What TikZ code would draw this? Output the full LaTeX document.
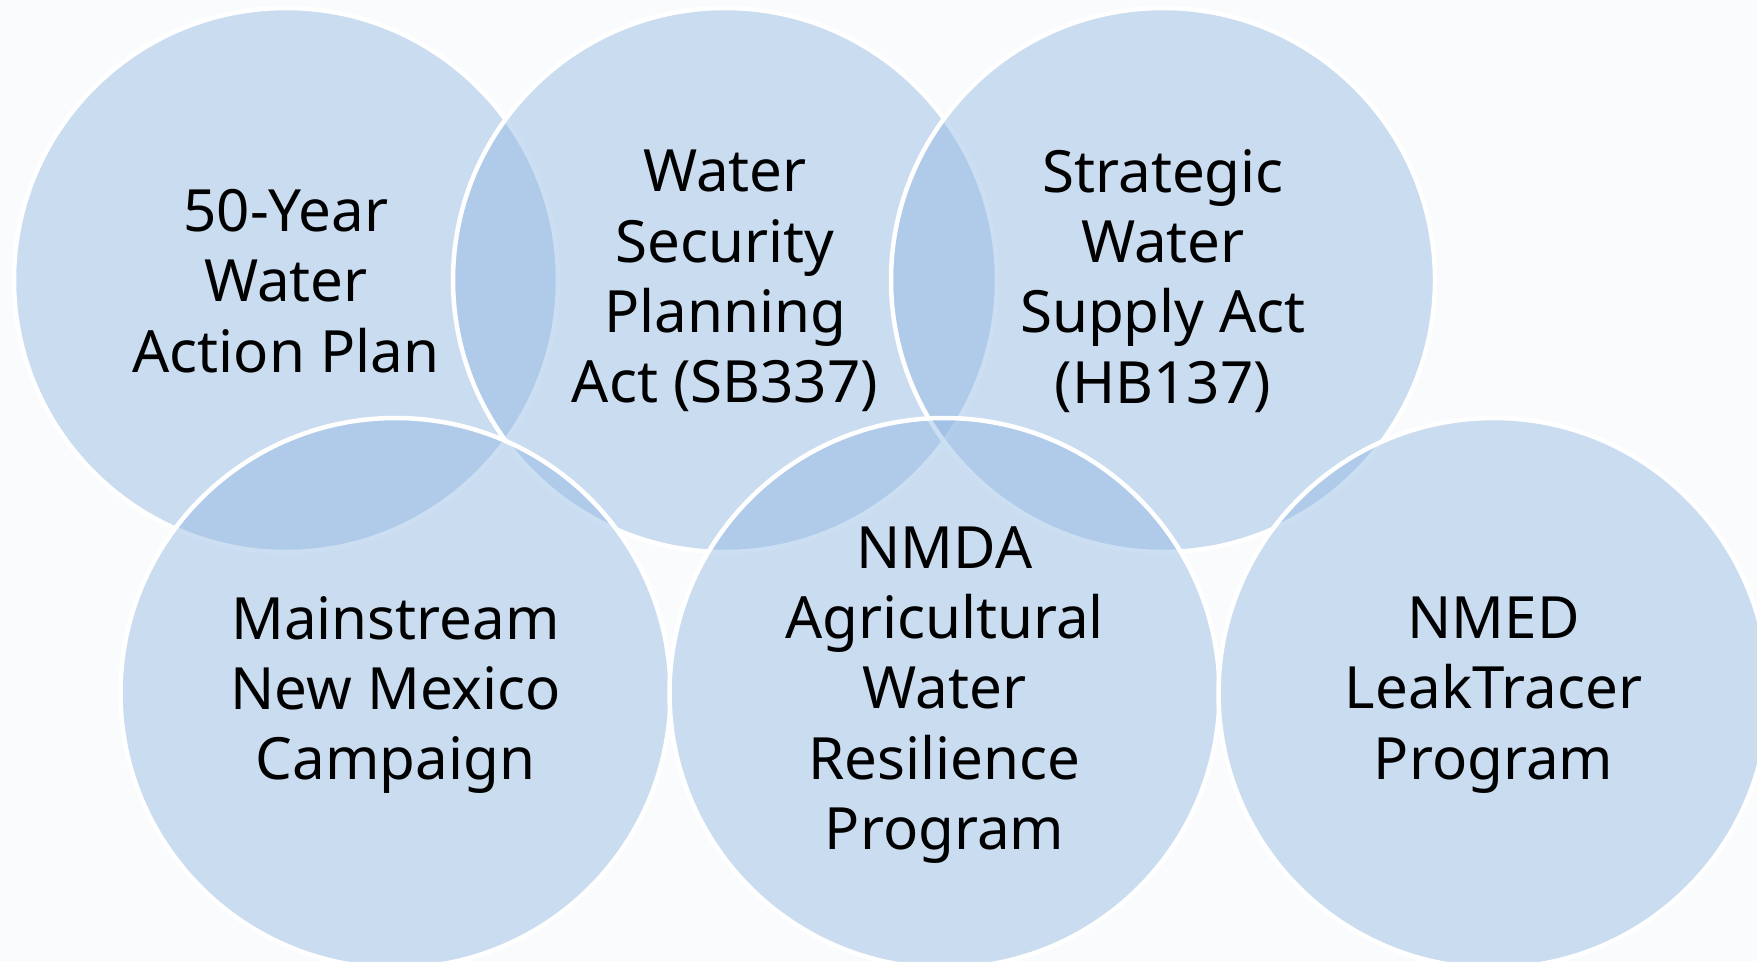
\documentclass[tikz,border=0pt]{standalone}
\usepackage{fontspec}
\setmainfont{Noto Sans}
\definecolor{bg}{RGB}{250,251,253}
\definecolor{cfill}{RGB}{146,185,225}
\begin{document}
\begin{tikzpicture}[x=1bp,y=-1bp,
  bubble/.style={circle, minimum size=544bp, inner sep=0pt, fill=cfill,
    fill opacity=0.46, draw=white, draw opacity=1, line width=4.5bp},
  bigbubble/.style={bubble, minimum size=550bp},
  caption/.style={align=center, text=black, inner sep=0pt,
    font=\fontsize{58.5}{70.5}\selectfont}]
\fill[bg] (0,0) rectangle (1757,961);
\useasboundingbox (0,0) rectangle (1757,961);
\node[bubble] (c1) at (286,280) {};
\node[bubble] (c2) at (725,280) {};
\node[bubble] (c3) at (1163,280) {};
\node[bigbubble] (c4) at (395.5,693) {};
\node[bigbubble] (c5) at (944.5,693) {};
\node[bigbubble] (c6) at (1493.5,693) {};
\node[caption] (t1) at ([yshift=-1bp]c1.center) {50-Year\\Water\\Action Plan};
\node[caption] (t2) at ([yshift=-1bp]c2.center) {Water\\Security\\Planning\\Act (SB337)};
\node[caption] (t3) at ([yshift=-1bp]c3.center) {Strategic\\Water\\Supply Act\\(HB137)};
\node[caption] (t4) at ([yshift=-2bp]c4.center) {Mainstream\\New Mexico\\Campaign};
\node[caption] (t5) at ([yshift=-2bp]c5.center) {NMDA\\Agricultural\\Water\\Resilience\\Program};
\node[caption] (t6) at ([yshift=-2bp]c6.center) {NMED\\LeakTracer\\Program};
\end{tikzpicture}
\end{document}
